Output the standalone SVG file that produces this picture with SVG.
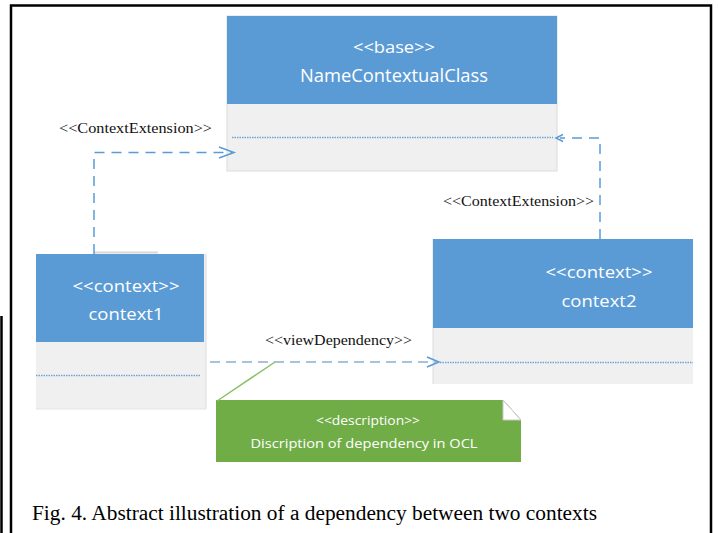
<svg xmlns="http://www.w3.org/2000/svg" width="718" height="533" viewBox="0 0 718 533">
  <style>
    .hdr { fill: #5B9BD5; }
    .cmp { fill: #F0F0F0; stroke: #DCDCDC; stroke-width: 1; }
    .cmpn { fill: #F0F0F0; stroke: none; }
    .dot { stroke: #6FA3D8; stroke-width: 1.6; stroke-dasharray: 1.5 1; fill: none; }
    .wt { font-family: "Open Sans", "Noto Sans", sans-serif; fill: #FFFFFF; text-anchor: middle; }
    .lbl { font-family: "Liberation Serif", "Times New Roman", serif; font-size: 15px; fill: #111111; }
    .dep { fill: none; stroke: #5B9BD5; stroke-width: 1.5; stroke-dasharray: 10 7; }
    .dep2 { fill: none; stroke: #A9C2DC; stroke-width: 2; stroke-dasharray: 10 6; }
    .head { fill: none; stroke: #5B9BD5; stroke-width: 1.5; stroke-dasharray: none; }
  </style>
  <rect width="718" height="533" fill="#FFFFFF"/>
  <!-- frame -->
  <g id="frame" fill="none" stroke="#000000">
    <polyline points="11,540 11,5.5 711,5.5 711,540" stroke-width="2.5"/>
    <line x1="1.5" y1="316" x2="1.5" y2="540" stroke-width="2.5"/>
  </g>

  <g id="base">
    <rect class="cmp" x="227" y="16" width="330" height="155"/>
    <rect class="hdr" x="227" y="16" width="330" height="88"/>
    <line class="dot" x1="232" y1="137.5" x2="553" y2="137.5"/>
    <text class="wt" x="394" y="53" font-size="16" textLength="82" lengthAdjust="spacingAndGlyphs">&lt;&lt;base&gt;&gt;</text>
    <text class="wt" x="394" y="82" font-size="19" textLength="188" lengthAdjust="spacingAndGlyphs">NameContextualClass</text>
  </g>

  <g id="context1">
    <line x1="94" y1="252.5" x2="158" y2="252.5" stroke="#D8D8D8" stroke-width="2"/>
    <rect class="cmpn" x="36" y="254" width="170" height="155"/>
    <line x1="206" y1="254" x2="206" y2="409" stroke="#DCDCDC"/>
    <line x1="36" y1="409" x2="206" y2="409" stroke="#E4E4E4"/>
    <rect class="hdr" x="36" y="254" width="168" height="88"/>
    <line class="dot" x1="36" y1="375.5" x2="200" y2="375.5"/>
    <text class="wt" x="126" y="292" font-size="17" textLength="107" lengthAdjust="spacingAndGlyphs">&lt;&lt;context&gt;&gt;</text>
    <text class="wt" x="126" y="320" font-size="17" textLength="75" lengthAdjust="spacingAndGlyphs">context1</text>
  </g>

  <g id="context2">
    <rect class="cmpn" x="433" y="239" width="260" height="145"/>
    <line x1="433" y1="239" x2="433" y2="384" stroke="#DCDCDC"/>
    <rect class="hdr" x="433" y="239" width="260" height="89"/>
    <line class="dot" x1="440" y1="362.5" x2="693" y2="362.5"/>
    <text class="wt" x="599" y="278" font-size="17" textLength="107" lengthAdjust="spacingAndGlyphs">&lt;&lt;context&gt;&gt;</text>
    <text class="wt" x="599" y="307" font-size="17" textLength="75" lengthAdjust="spacingAndGlyphs">context2</text>
  </g>

  <g id="note">
    <polygon points="216,400 503,400 521,420 521,462 216,462" fill="#70AD47"/>
    <polygon points="503,400 503,420 521,420" fill="#FFFFFF" stroke="#C8C8C8" stroke-width="1"/>
    <line x1="503" y1="400" x2="521" y2="420" stroke="#C8C8C8" stroke-width="1"/>
    <text class="wt" x="368" y="425" font-size="12" textLength="104" lengthAdjust="spacingAndGlyphs">&lt;&lt;description&gt;&gt;</text>
    <text class="wt" x="364" y="448" font-size="13" textLength="227" lengthAdjust="spacingAndGlyphs">Discription of dependency in OCL</text>
  </g>

  <g id="connectors">
    <!-- left ContextExtension -->
    <polyline class="dep" points="94,254 94,152.5 232,152.5"/>
    <polyline class="head" points="219,147 234,152.5 219,158"/>
    <text class="lbl" x="59" y="133" textLength="153" lengthAdjust="spacingAndGlyphs">&lt;&lt;ContextExtension&gt;&gt;</text>
    <!-- right ContextExtension -->
    <polyline class="dep" points="600,239 600,138 560,138"/>
    <polyline class="head" points="563,134.5 556,138 563,141.5"/>
    <text class="lbl" x="443" y="206" textLength="151" lengthAdjust="spacingAndGlyphs">&lt;&lt;ContextExtension&gt;&gt;</text>
    <!-- viewDependency -->
    <line class="dep2" x1="210" y1="362" x2="436" y2="362"/>
    <polyline class="head" points="427,357 439,362 427,367"/>
    <text class="lbl" x="265" y="345" textLength="147" lengthAdjust="spacingAndGlyphs">&lt;&lt;viewDependency&gt;&gt;</text>
    <!-- note anchor -->
    <line x1="217" y1="401" x2="275" y2="362" stroke="#8CBF66" stroke-width="1.5"/>
  </g>

  <text x="32" y="520" font-family="Liberation Serif, 'Times New Roman', serif" font-size="20" fill="#000000" textLength="565" lengthAdjust="spacingAndGlyphs">Fig. 4. Abstract illustration of a dependency between two contexts</text>
</svg>
